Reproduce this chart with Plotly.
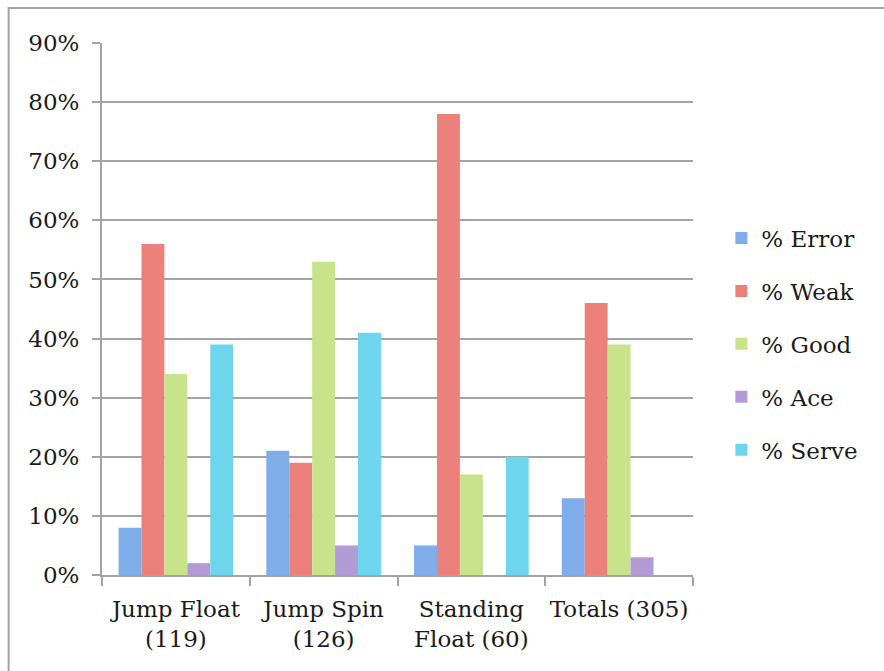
import plotly.graph_objects as go

# Serve types (with sample sizes) and outcome shares in percent
categories = ["Jump Float<br>(119)", "Jump Spin<br>(126)", "Standing<br>Float (60)", "Totals (305)"]
pct_error = [8, 21, 5, 13]
pct_weak = [56, 19, 78, 46]
pct_good = [34, 53, 17, 39]
pct_ace = [2, 5, 0, 3]
pct_serve = [39, 41, 20, 0]

series_names = ["% Error", "% Weak", "% Good", "% Ace", "% Serve"]
series_values = [pct_error, pct_weak, pct_good, pct_ace, pct_serve]
series_colors = ["#7fade9", "#ec817c", "#c8e38c", "#b39bd8", "#6ed5ee"]

tick_vals = [0, 10, 20, 30, 40, 50, 60, 70, 80, 90]
tick_text = [f"{v}%" for v in tick_vals]

font_family = "DejaVu Serif"
font_size = 23
grid_color = "#a3a3a3"
text_color = "#1a1a1a"

fig = go.Figure()
for name, vals, col in zip(series_names, series_values, series_colors):
    fig.add_trace(go.Bar(
        name=name,
        x=categories,
        y=vals,
        legendgroup=name,
        marker=dict(color=col, line=dict(width=0)),
    ))

fig.update_layout(
    width=884,
    height=671,
    barmode="group",
    bargap=0.224,
    bargroupgap=0,
    paper_bgcolor="white",
    plot_bgcolor="white",
    margin=dict(l=102, r=191, t=43, b=96, autoexpand=False),
    font=dict(family=font_family, size=font_size, color=text_color),
    legend=dict(
        x=1.048, xanchor="left",
        y=0.434, yanchor="middle",
        traceorder="grouped",
        tracegroupgap=20,
        font=dict(family=font_family, size=font_size, color=text_color),
        itemwidth=30,
        bgcolor="rgba(0,0,0,0)",
    ),
    xaxis=dict(
        type="category",
        showline=True,
        linecolor=grid_color,
        linewidth=2,
        ticks="outside",
        tickson="boundaries",
        ticklen=9,
        tickwidth=2,
        tickcolor=grid_color,
        showgrid=False,
        tickangle=0,
        ticklabelstandoff=12,
        tickfont=dict(family=font_family, size=font_size, color=text_color),
    ),
    yaxis=dict(
        range=[0, 90],
        tickvals=tick_vals,
        ticktext=tick_text,
        showline=True,
        linecolor=grid_color,
        linewidth=2,
        ticks="outside",
        ticklen=8,
        tickwidth=2,
        tickcolor=grid_color,
        showgrid=True,
        gridcolor=grid_color,
        gridwidth=2,
        zeroline=False,
        ticklabelstandoff=8,
        tickfont=dict(family=font_family, size=font_size, color=text_color),
    ),
)

# Outer frame around the whole chart
fig.add_shape(
    type="rect", xref="paper", yref="paper",
    x0=-0.158, x1=1.4, y0=-0.3, y1=1.066,
    line=dict(color=grid_color, width=2),
    fillcolor="rgba(0,0,0,0)",
    layer="below",
)

fig.write_html("out.html")
